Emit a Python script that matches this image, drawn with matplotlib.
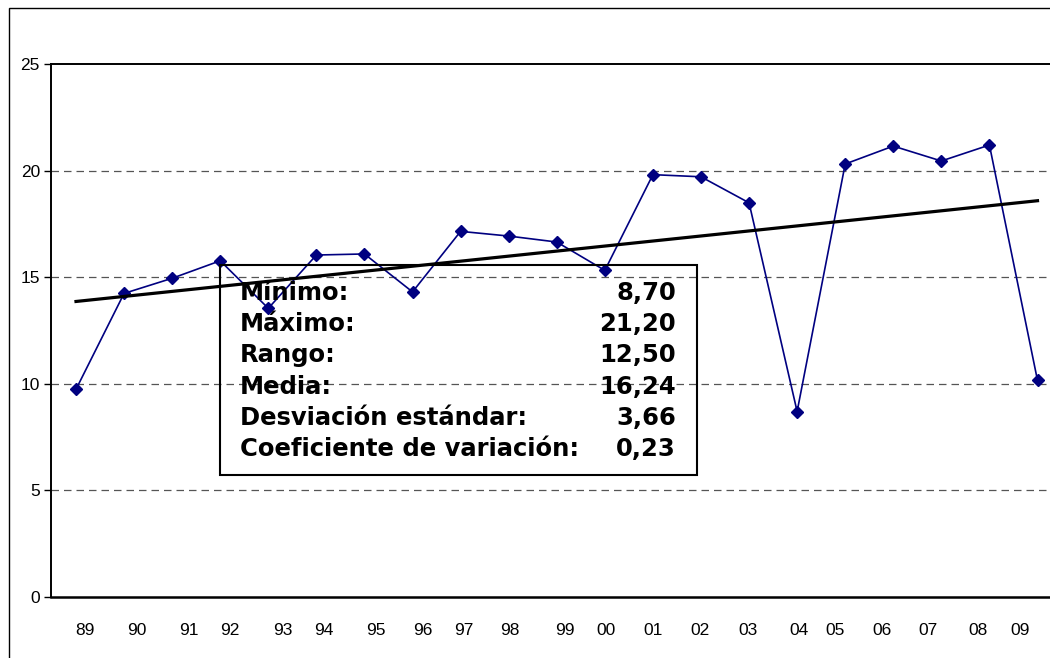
import matplotlib
import matplotlib.pyplot as plt
import numpy as np
from matplotlib.patches import Rectangle

matplotlib.use("Agg")

years = ["89", "90", "91", "92", "93", "94", "95", "96", "97", "98", "99",
         "00", "01", "02", "03", "04", "05", "06", "07", "08", "09"]
values = [9.74, 14.24, 14.95, 15.77, 13.54, 16.04, 16.09, 14.31, 17.15, 16.93, 16.65,
          15.32, 19.81, 19.71, 18.49, 8.70, 20.31, 21.15, 20.45, 21.20, 10.16]
# where Excel put the year labels (in point-index units)
label_pos = [0.19, 1.26, 2.34, 3.20, 4.30, 5.15, 6.24, 7.21, 8.06, 9.03, 10.17,
             11.03, 12.00, 12.98, 13.97, 15.03, 15.79, 16.76, 17.73, 18.77, 19.64]

stat_names = ["Mínimo:", "Máximo:", "Rango:", "Media:",
              "Desviación estándar:", "Coeficiente de variación:"]
stat_values = ["8,70", "21,20", "12,50", "16,24", "3,66", "0,23"]

W, H = 1050, 658
fig = plt.figure(figsize=(W / 100, H / 100), dpi=100)
ax = fig.add_axes([51 / W, 1 - 597 / H, 1 - 51 / W, (597 - 64) / H])

x = np.arange(len(values))
ax.plot(x, values, color="#000080", lw=1.2, marker="D", markersize=6.5,
        markerfacecolor="#000080", markeredgecolor="#000080", zorder=3)

slope, intercept = np.polyfit(x, values, 1)
ax.plot([x[0], x[-1]], [intercept, slope * x[-1] + intercept], color="black", lw=2.3, zorder=4)

ax.set_xlim(-0.52, 20.26)
ax.set_ylim(0, 25)
ax.set_yticks(range(0, 26, 5))
for v in range(5, 25, 5):
    ax.axhline(v, color="#555555", lw=0.9, ls=(0, (6, 4)), zorder=1)

ax.set_xticks(label_pos)
ax.set_xticklabels(years)
ax.tick_params(axis="x", length=0, pad=19, labelsize=12.5)
ax.tick_params(axis="y", length=5, width=1, pad=3, labelsize=12.5)
for lab in ax.get_xticklabels() + ax.get_yticklabels():
    lab.set_fontfamily("Liberation Sans")

ax.spines["right"].set_visible(False)
ax.spines["left"].set_linewidth(1.4)
ax.spines["top"].set_linewidth(1.4)
ax.spines["bottom"].set_linewidth(1.8)

# outer chart border
fig.add_artist(Rectangle((9 / W, -0.01), 1.1, 1 - 8 / H + 0.01, transform=fig.transFigure,
                         fill=False, ec="black", lw=1))

# statistics box
fig.add_artist(Rectangle((220 / W, 1 - 475 / H), (697 - 220) / W, (475 - 265) / H,
                         transform=fig.transFigure, fill=False, ec="black", lw=1.5, zorder=5))
for i, (name, val) in enumerate(zip(stat_names, stat_values)):
    ypix = 293 + 31.2 * i
    fig.text(240 / W, 1 - ypix / H, name, ha="left", va="center", fontsize=17.5,
             fontweight="bold", family="DejaVu Sans", zorder=6)
    fig.text(676 / W, 1 - ypix / H, val, ha="right", va="center", fontsize=17.5,
             fontweight="bold", family="DejaVu Sans", zorder=6)

fig.savefig("out.png", dpi=100)
plt.close(fig)
